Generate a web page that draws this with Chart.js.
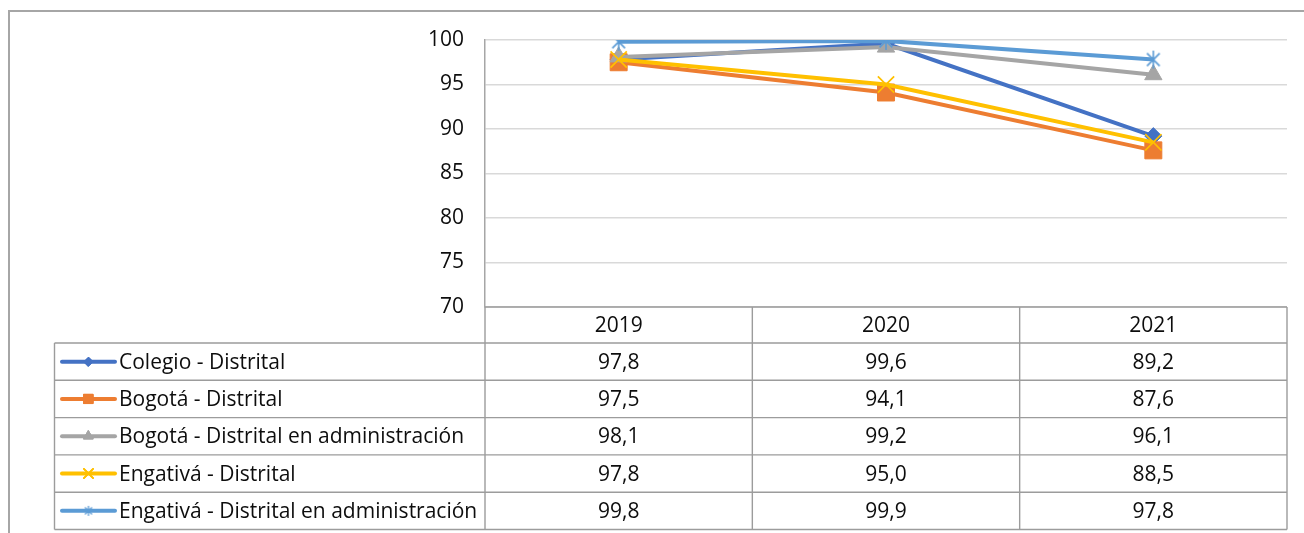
<!DOCTYPE html>
<html lang="es">
<head>
<meta charset="UTF-8">
<title>Tasa de aprobación</title>
<script src="https://cdn.jsdelivr.net/npm/chart.js"></script>
<style>
  body { margin: 0; background: #fff; }
  #wrap { position: relative; width: 1304px; height: 533px; }
</style>
</head>
<body>
<div id="wrap"><canvas id="chart"></canvas></div>
<script>
// data (values from the data table)
const years = ['2019', '2020', '2021'];
const seriesNames = [
  'Colegio - Distrital',
  'Bogotá - Distrital',
  'Bogotá - Distrital en administración',
  'Engativá - Distrital',
  'Engativá - Distrital en administración'
];
const colegioDistrital = [97.8, 99.6, 89.2];
const bogotaDistrital = [97.5, 94.1, 87.6];
const bogotaAdmin = [98.1, 99.2, 96.1];
const engativaDistrital = [97.8, 95.0, 88.5];
const engativaAdmin = [99.8, 99.9, 97.8];
const yMin = 70, yMax = 100, yStep = 5;

const FONT = '"Open Sans", "Noto Sans", sans-serif';
const FSIZE = 21;
const TXT = '#0d0d0d';

// asterisk marker like the excel one (vertical bar + X)
function asterisk(size, color, lw) {
  const c = document.createElement('canvas');
  c.width = c.height = size;
  const g = c.getContext('2d');
  const m = size / 2, r = size / 2 - 1;
  g.strokeStyle = color;
  g.lineWidth = lw;
  g.beginPath();
  g.moveTo(m, m - r); g.lineTo(m, m + r);
  const d = r * Math.SQRT1_2;
  g.moveTo(m - d, m - d); g.lineTo(m + d, m + d);
  g.moveTo(m - d, m + d); g.lineTo(m + d, m - d);
  g.stroke();
  return c;
}

const styles = [
  { color: '#4472C4', point: 'rectRot', radius: 8.5, keyPoint: 'rectRot', keyRadius: 4.5, bw: 1 },
  { color: '#ED7D31', point: 'rect', radius: 12, keyPoint: 'rect', keyRadius: 6.5, bw: 1 },
  { color: '#A5A5A5', point: 'triangle', radius: 10, keyPoint: 'triangle', keyRadius: 5.5, bw: 1 },
  { color: '#FFC000', point: 'crossRot', radius: 11.5, keyPoint: 'crossRot', keyRadius: 6.5, bw: 1.7 },
  { color: '#5B9BD5', point: asterisk(20, '#5B9BD5', 1.6), radius: 9, keyPoint: asterisk(12, '#5B9BD5', 1.3), keyRadius: 5, bw: 1 }
];
const seriesData = [colegioDistrital, bogotaDistrital, bogotaAdmin, engativaDistrital, engativaAdmin];

const datasets = seriesData.map((d, i) => ({
  label: seriesNames[i],
  data: d,
  borderColor: styles[i].color,
  backgroundColor: styles[i].color,
  borderWidth: 4,
  pointStyle: styles[i].point,
  pointRadius: styles[i].radius,
  pointBorderWidth: styles[i].bw,
  pointBorderColor: styles[i].color,
  pointBackgroundColor: styles[i].color,
  order: seriesData.length - i,
  tension: 0,
  fill: false
}));

const fmt = v => v.toFixed(1).replace('.', ',');

const dataTable = {
  id: 'dataTable',
  beforeDraw(chart) {
    const ctx = chart.ctx;
    ctx.save();
    ctx.strokeStyle = '#a6a6a6';
    ctx.lineWidth = 2;
    ctx.strokeRect(9, 11, 1400, 700);
    ctx.restore();
  },
  afterDraw(chart) {
    const { ctx, chartArea: a, scales: { x } } = chart;
    const headerH = 36, rowH = 37.3, tableLeft = 54.5;
    const top = a.bottom;
    const centers = years.map((y, i) => x.getPixelForValue(i));
    const edges = [a.left];
    for (let i = 0; i < centers.length - 1; i++) edges.push((centers[i] + centers[i + 1]) / 2);
    edges.push(a.right);
    const bottom = top + headerH + rowH * seriesNames.length;

    ctx.save();
    ctx.strokeStyle = '#9c9c9c';
    ctx.lineWidth = 1.4;
    ctx.beginPath();
    ctx.moveTo(a.left, top); ctx.lineTo(a.right, top);
    for (let r = 0; r <= seriesNames.length; r++) {
      const yy = top + headerH + rowH * r;
      ctx.moveTo(tableLeft, yy); ctx.lineTo(a.right, yy);
    }
    edges.forEach(ex => { ctx.moveTo(ex, top); ctx.lineTo(ex, bottom); });
    ctx.moveTo(tableLeft, top + headerH); ctx.lineTo(tableLeft, bottom);
    ctx.stroke();

    ctx.font = FSIZE + 'px ' + FONT;
    ctx.fillStyle = TXT;
    ctx.textBaseline = 'middle';
    ctx.textAlign = 'center';
    years.forEach((y, i) => ctx.fillText(y, centers[i], top + headerH / 2 + 1));

    seriesNames.forEach((name, r) => {
      const cy = top + headerH + rowH * r + rowH / 2 + 1;
      ctx.textAlign = 'center';
      ctx.fillStyle = TXT;
      seriesData[r].forEach((v, i) => ctx.fillText(fmt(v), centers[i], cy));
      // legend key: line + small marker
      const st = styles[r];
      ctx.strokeStyle = st.color;
      ctx.lineWidth = 4;
      ctx.lineCap = 'round';
      ctx.beginPath();
      ctx.moveTo(62, cy - 1); ctx.lineTo(115, cy - 1);
      ctx.stroke();
      ctx.fillStyle = st.color;
      ctx.lineWidth = st.bw;
      Chart.helpers.drawPoint(ctx, {
        pointStyle: st.keyPoint, radius: st.keyRadius, rotation: 0, borderWidth: st.bw
      }, 88.5, cy - 1);
      if (typeof st.keyPoint === 'string') { ctx.fill(); ctx.stroke(); }
      ctx.textAlign = 'left';
      ctx.fillStyle = TXT;
      ctx.fillText(name, 119, cy);
    });
    ctx.restore();
  }
};

new Chart(document.getElementById('chart'), {
  type: 'line',
  data: { labels: years, datasets: datasets },
  plugins: [dataTable],
  options: {
    responsive: true,
    maintainAspectRatio: false,
    animation: false,
    layout: { padding: { top: 40, right: 17, bottom: 226, left: 0 } },
    plugins: { legend: { display: false }, tooltip: { enabled: false } },
    scales: {
      x: { type: 'category', offset: true, display: false },
      y: {
        min: yMin, max: yMax,
        afterFit: s => { s.width = 485; },
        ticks: { stepSize: yStep, padding: 21, color: TXT, font: { family: FONT, size: FSIZE } },
        grid: { color: '#d9d9d9', lineWidth: 1.5, drawTicks: false },
        border: { color: '#a6a6a6', width: 1.5 }
      }
    }
  }
});
</script>
</body>
</html>
